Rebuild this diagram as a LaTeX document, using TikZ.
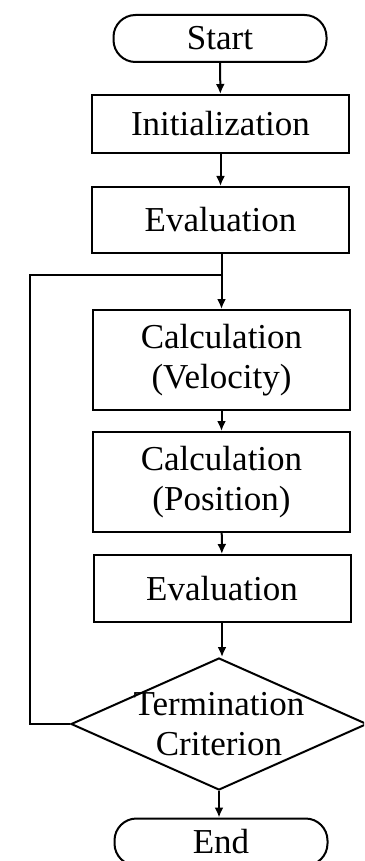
\documentclass[tikz,border=0pt]{standalone}
\usepackage{fontspec}
\setmainfont{Liberation Serif}
\usetikzlibrary{arrows.meta,shapes.geometric}

\tikzset{
	terminal/.style = {draw, rectangle, rounded corners=22pt, minimum width=213pt, minimum height=47pt, inner sep=0pt},
	process/.style = {draw, rectangle, minimum width=257pt, inner sep=0pt, align=center},
	decision/.style = {draw, diamond, minimum width=296pt, minimum height=132pt, inner sep=0pt},
	flow/.style = {-{Latex[length=10pt,width=9pt]}}
}

\begin{document}
\begin{tikzpicture}[x=1pt,y=-1pt,line width=2pt,font=\fontsize{35}{40}\selectfont]
			\useasboundingbox (0,0) rectangle (364,861);
			\clip (0,0) rectangle (364,861);
			
			\node [terminal] (start) at (220,38.5) {Start};
			\node [process, minimum height=58pt] (init) at (220.5,124) {Initialization};
			\node [process, minimum height=66pt] (eval) at (220.5,220) {Evaluation};
			\node [process, minimum height=100pt] (velo) at (221.5,360) {Calculation\\(Velocity)};
			\node [process, minimum height=100pt] (posi) at (221.5,482) {Calculation\\(Position)};
			\node [process, minimum height=67pt] (evaltwo) at (222,588.5) {Evaluation};
			\node [decision, label={[align=center]center:Termination\\Criterion}] (term) at (219,724) {};
			\node [terminal] (end) at (221,842) {End};
			
			\coordinate (back) at (30,275);
			\coordinate (join) at (221,275);
			
			\draw [flow] (start) -- (init);
			\draw [flow] (init) -- (eval);
			\draw [flow] (eval.south -| velo) -- (velo);
			\draw [flow] (velo) -- (posi);
			\draw [flow] (posi) -- (evaltwo);
			\draw [flow] (evaltwo.south) -- (term.north -| evaltwo);
			\draw [flow] (term.south) -- (term.south |- end.north);
			
			% loop back
			\draw (term.west) -| (back) -- (join);
\end{tikzpicture}
\end{document}
